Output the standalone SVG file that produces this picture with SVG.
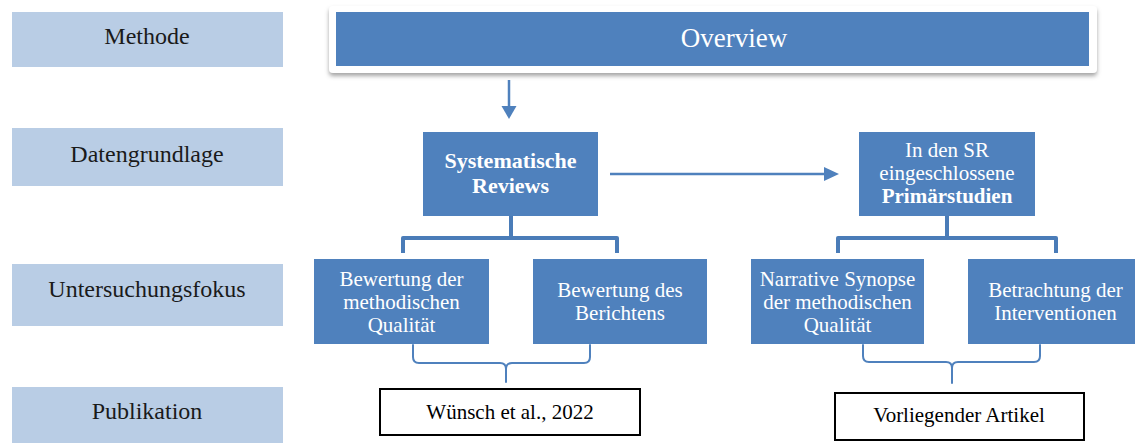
<svg xmlns="http://www.w3.org/2000/svg" width="1135" height="443" viewBox="0 0 1135 443">
<defs>
<style>
.lab{fill:#b9cde5}
.labt{font-family:"Liberation Serif","Times New Roman",serif;font-size:24px;fill:#1a1a1a;text-anchor:middle}
.node{fill:#4f81bd}
.nt{font-family:"Liberation Serif","Times New Roman",serif;font-size:21px;fill:#ffffff;text-anchor:middle}
.b{font-weight:bold}
.pub{fill:#ffffff;stroke:#000000;stroke-width:2}
.pt{font-family:"Liberation Serif","Times New Roman",serif;font-size:21px;fill:#000000;text-anchor:middle}
.thick{fill:none;stroke:#4a7cb8;stroke-width:4;stroke-linejoin:round}
.thin{fill:none;stroke:#4f81bd;stroke-width:2;stroke-linecap:round}
.arr{fill:none;stroke:#4f81bd;stroke-width:2.5}
.head{fill:#4f81bd}
</style>
<filter id="sh" x="-5%" y="-30%" width="110%" height="170%">
<feDropShadow dx="0" dy="3" stdDeviation="2" flood-color="#7f7f7f" flood-opacity="0.7"/>
</filter>
</defs>
<rect width="1135" height="443" fill="#ffffff"/>

<g id="label-methode"><rect class="lab" x="12" y="12" width="271" height="55"/><text class="labt" x="147" y="44">Methode</text></g>
<g id="label-datengrundlage"><rect class="lab" x="12" y="128" width="271" height="58"/><text class="labt" x="147" y="162">Datengrundlage</text></g>
<g id="label-untersuchungsfokus"><rect class="lab" x="12" y="264" width="271" height="62"/><text class="labt" x="147" y="297">Untersuchungsfokus</text></g>
<g id="label-publikation"><rect class="lab" x="12" y="387" width="271" height="56"/><text class="labt" x="147" y="419">Publikation</text></g>

<g id="overview">
<rect x="329" y="6" width="768" height="67" rx="4" fill="#ffffff" filter="url(#sh)"/>
<rect class="node" x="336" y="12" width="753" height="54"/>
<text class="nt" x="734" y="47" style="font-size:27px">Overview</text>
</g>

<g id="systematische-reviews">
<rect class="node" x="423" y="132" width="175" height="84"/>
<text class="nt b" x="510.5" y="168" style="font-size:22px">Systematische</text>
<text class="nt b" x="510.5" y="193" style="font-size:22px">Reviews</text>
</g>

<g id="primaerstudien">
<rect class="node" x="859" y="132" width="176" height="84"/>
<text class="nt" x="947" y="157">In den SR</text>
<text class="nt" x="947" y="180">eingeschlossene</text>
<text class="nt b" x="947" y="203">Primärstudien</text>
</g>

<g id="bewertung-qualitaet">
<rect class="node" x="314" y="259" width="175" height="85"/>
<text class="nt" x="401.5" y="286">Bewertung der</text>
<text class="nt" x="401.5" y="309">methodischen</text>
<text class="nt" x="401.5" y="332">Qualität</text>
</g>

<g id="bewertung-berichten">
<rect class="node" x="533" y="259" width="174" height="85"/>
<text class="nt" x="620" y="297">Bewertung des</text>
<text class="nt" x="620" y="320">Berichtens</text>
</g>

<g id="narrative-synopse">
<rect class="node" x="751" y="259" width="173" height="85"/>
<text class="nt" x="837.5" y="286">Narrative Synopse</text>
<text class="nt" x="837.5" y="309">der methodischen</text>
<text class="nt" x="837.5" y="332">Qualität</text>
</g>

<g id="betrachtung-interventionen">
<rect class="node" x="968" y="259" width="175" height="85"/>
<text class="nt" x="1055.5" y="297">Betrachtung der</text>
<text class="nt" x="1055.5" y="320">Interventionen</text>
</g>

<g id="wuensch">
<rect class="pub" x="380" y="389" width="260" height="46"/>
<text class="pt" x="510" y="419">Wünsch et al., 2022</text>
</g>

<g id="vorliegender-artikel">
<rect class="pub" x="835" y="393" width="249" height="47"/>
<text class="pt" x="959" y="422">Vorliegender Artikel</text>
</g>

<g id="connectors">
<line class="arr" x1="509" y1="80" x2="509" y2="107"/>
<polygon class="head" points="501.5,106 516.5,106 509,119"/>
<line class="arr" x1="610" y1="174" x2="826" y2="174"/>
<polygon class="head" points="824,167 824,181 839,174"/>
<path class="thick" d="M511,216 V238 M403,253 V238 H617 V253"/>
<path class="thick" d="M947,216 V238 M838,253 V238 H1056 V253"/>
<path class="thin" d="M413,345 V357 Q413,363 419,363 H500 Q506,363 506,369 V382 M590,345 V357 Q590,363 584,363 H512 Q506,363 506,369"/>
<path class="thin" d="M863,345 V356 Q863,362 869,362 H946 Q952,362 952,368 V383 M1040,345 V356 Q1040,362 1034,362 H958 Q952,362 952,368"/>
</g>
</svg>
